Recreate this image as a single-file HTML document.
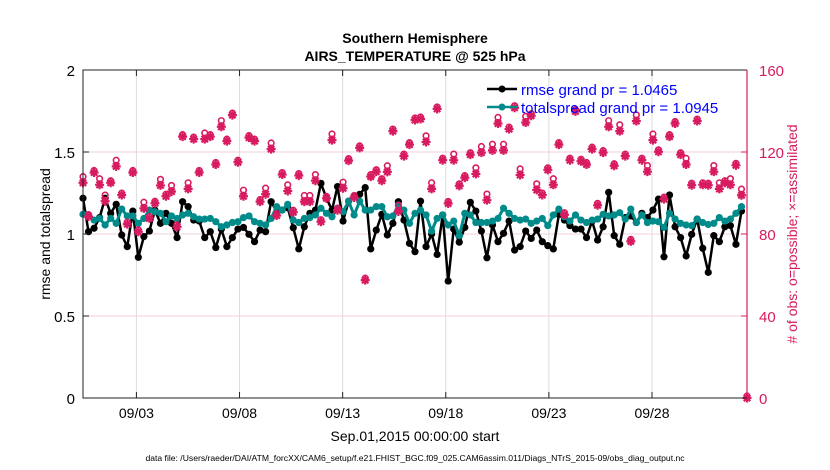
<!DOCTYPE html>
<html><head><meta charset="utf-8"><style>
body{margin:0;background:#fff;}
svg{display:block;font-family:"Liberation Sans",sans-serif;}
</style></head><body>
<svg id="chart" width="830" height="470" viewBox="0 0 830 470">
<rect width="830" height="470" fill="#fff"/>
<text x="415" y="43" text-anchor="middle" font-size="14" font-weight="bold">Southern Hemisphere</text>
<text x="415" y="61" text-anchor="middle" font-size="14" font-weight="bold">AIRS_TEMPERATURE @ 525 hPa</text>
<g id="grid"></g>
<g id="series"></g>
<g id="axes"></g>
<text transform="translate(50,234) rotate(-90)" text-anchor="middle" font-size="14">rmse and totalspread</text>
<text transform="translate(797,234) rotate(-90)" text-anchor="middle" font-size="14" fill="#d81b60"># of obs: o=possible; ×=assimilated</text>
<text x="415" y="441" text-anchor="middle" font-size="14">Sep.01,2015 00:00:00 start</text>
<text x="415" y="461" text-anchor="middle" font-size="8.6">data file: /Users/raeder/DAI/ATM_forcXX/CAM6_setup/f.e21.FHIST_BGC.f09_025.CAM6assim.011/Diags_NTrS_2015-09/obs_diag_output.nc</text>
<g>
<g>
<line x1="487" y1="89" x2="517" y2="89" stroke="#000" stroke-width="2.5"/>
<circle cx="502" cy="89" r="3.5" fill="#000"/>
<text x="521" y="95" font-size="15" fill="#0000ff">rmse grand pr = 1.0465</text>
</g>
<g>
<line x1="487" y1="107" x2="517" y2="107" stroke="#008b8b" stroke-width="2.5"/>
<circle cx="502" cy="107" r="3.5" fill="#008b8b"/>
<text x="521" y="113" font-size="15" fill="#0000ff">totalspread grand pr = 1.0945</text>
</g>
</g>
</svg>
<script>
const rmse = [1.218,1.014,1.035,1.10,1.218,1.126,1.181,0.994,0.923,1.140,0.858,0.984,1.018,1.146,1.065,1.126,1.065,0.978,1.197,1.167,1.085,1.079,0.978,1.014,0.917,1.03,0.923,0.978,1.03,1.04,0.998,
0.953,1.024,1.014,1.197,1.136,1.146,1.16,1.038,0.909,1.044,1.126,1.146,1.309,1.218,1.146,1.289,1.079,1.2,1.228,1.242,1.283,0.909,1.024,1.12,0.994,1.065,1.197,1.085,0.943,0.892,
1.2,0.923,1.0,0.875,1.116,0.713,1.03,0.95,1.04,1.193,1.14,1.018,0.855,1.055,0.953,1.004,1.079,0.902,0.923,1.018,0.973,1.024,0.953,0.929,0.909,1.12,1.085,1.051,1.03,1.03,
0.978,1.079,0.963,1.044,1.254,0.99,0.937,1.1,1.11,1.07,1.126,1.1,1.146,1.213,0.861,1.238,1.044,0.978,0.866,0.998,1.091,0.913,0.766,0.99,0.953,1.044,1.051,0.937,1.14,null];
const spread = [1.12,1.11,1.085,1.095,1.055,1.095,1.065,1.152,1.11,1.11,1.065,1.095,1.146,1.136,1.126,1.075,1.11,1.095,1.116,1.126,1.105,1.091,1.091,1.095,1.075,1.044,1.055,1.07,1.075,1.10,1.11,
1.075,1.065,1.055,1.095,1.167,1.146,1.181,1.085,1.07,1.095,1.1,1.116,1.157,1.126,1.105,1.157,1.136,1.2,1.116,1.2,1.146,1.146,1.167,1.167,1.105,1.11,1.177,1.146,1.065,1.126,
1.146,1.116,1.018,1.095,1.116,1.055,1.079,0.99,1.126,1.116,1.07,1.07,1.07,1.079,1.095,1.157,1.126,1.095,1.085,1.091,1.065,1.079,1.095,1.051,1.116,1.152,1.105,1.079,1.116,1.085,
1.07,1.085,1.091,1.12,1.11,1.116,1.13,1.091,1.152,1.07,1.116,1.07,1.079,1.075,1.04,1.126,1.091,1.065,1.055,1.051,1.091,1.07,1.058,1.065,1.1,1.079,1.091,1.126,1.167,null];
const obsAssim = [105,88.5,110,104,96,105,113,99,84.8,110,81.1,92.5,87.6,95,103.7,98.4,100.7,83.5,127.5,102,126.3,110,126.3,127.5,113.9,132.3,125.3,138,115,98.4,127,
125.3,95.8,99.4,121.4,89,109,101,90.6,108.5,95.8,95.8,106,86,97.4,125.8,91.6,102.3,115.8,97.8,122,57.5,108,110.4,106,110.3,130.2,91,118,123.6,135.6,
136.1,124.9,102,141,116,94.9,116,103.5,107.5,118.7,109.3,119.7,96.5,120.8,133.9,120.8,131.2,141.6,108.8,134.4,137.7,101.5,99,111.3,104,123.6,89.4,116,139.8,115.5,
113.9,121.4,94,119.7,132.3,113.3,130.2,118,76.4,135.1,116,110.4,125.8,120.1,97,127.5,133.9,118.7,113.9,103.8,135.1,104,103.8,110.4,102,105,104,113.5,98.9,0];
const obsPossible = [107,88.5,110,106,98,105,115,99,84.8,110,81.1,94.5,87.6,95,105.7,98.4,102.7,83.5,127.5,104,126.3,110,128.3,127.5,113.9,134.3,125.3,138,115,100.4,127,
125.3,95.8,101.4,123.4,89,109,103,90.6,108.5,97.8,97.8,108,86,97.4,127.8,91.6,104.3,115.8,97.8,122,57.5,108,110.4,106,112.3,130.2,93,118,123.6,135.6,
136.1,126.9,104,141,116,94.9,118,103.5,107.5,118.7,111.3,121.7,98.5,122.8,135.9,122.8,131.2,141.6,110.8,136.4,137.7,103.5,99,111.3,106,123.6,89.4,116,139.8,115.5,
113.9,121.4,94,119.7,134.3,113.3,132.3,118,76.4,137.1,116,112.4,127.8,120.1,97,127.5,133.9,118.7,115.9,103.8,135.1,104,103.8,112.4,104,105,106,113.5,100.9,0];
const xTickDays = [2,7,12,17,22,27];
const xTickLabels = ["09/03","09/08","09/13","09/18","09/23","09/28"];
const yTicksLeft = [0,0.5,1,1.5,2];
const yTickLabelsLeft = ["0","0.5","1","1.5","2"];
const yTicksRight = [0,40,80,120,160];
const yTickLabelsRight = ["0","40","80","120","160"];

const NS="http://www.w3.org/2000/svg";
const L=83, R=747, T=70, B=398;
const t0=-0.59, dt=0.2683;
const dayMin=t0, dayMax=t0+dt*(rmse.length-1);
const xs = d => L + (d-dayMin)/(dayMax-dayMin)*(R-L);
const yl = v => B - v/2*(B-T);
const yr = v => B - v/160*(B-T);
const RED="#d81b60", TEAL="#008b8b";
function mk(tag, attrs, parent){const e=document.createElementNS(NS,tag);for(const k in attrs)e.setAttribute(k,attrs[k]);parent.appendChild(e);return e;}
const grid=document.getElementById('grid'), ser=document.getElementById('series'), ax=document.getElementById('axes');

xTickDays.forEach((d,i)=>{
  const x=xs(d);
  const g=mk('line',{x1:x,y1:T,x2:x,y2:B,stroke:'#dcdcdc','stroke-width':1},grid);
  
  
  mk('line',{x1:x,y1:B,x2:x,y2:B-6,stroke:'#222'},ax);
  mk('line',{x1:x,y1:T,x2:x,y2:T+6,stroke:'#222'},ax);
  const t=mk('text',{x:x,y:B+20,'text-anchor':'middle','font-size':14},ax);
  t.textContent=xTickLabels[i];
  
  
});
yTicksRight.forEach((v,i)=>{
  const y=yr(v);
  if(v>0&&v<160){
    const g=mk('line',{x1:L,y1:y,x2:R,y2:y,stroke:'#f2cfdc','stroke-width':1},grid);
    
    
  }
  mk('line',{x1:R,y1:y,x2:R-6,y2:y,stroke:RED},ax);
  const t=mk('text',{x:R+12,y:y+6,'font-size':15,fill:RED},ax);
  t.textContent=yTickLabelsRight[i];
  
  
});
yTicksLeft.forEach((v,i)=>{
  const y=yl(v);
  mk('line',{x1:L,y1:y,x2:L+6,y2:y,stroke:'#222'},ax);
  const t=mk('text',{x:L-8,y:y+6,'text-anchor':'end','font-size':15},ax);
  t.textContent=yTickLabelsLeft[i];
  
  
});
const fr1=mk('path',{d:`M${R},${T}H${L}V${B}H${R}`,fill:'none',stroke:'#222','stroke-width':1},ax);


const ra=mk('line',{x1:R,y1:T,x2:R,y2:B,stroke:RED,'stroke-width':1.2},ax);



function series(arr,color,name,w){
  let d='';
  arr.forEach((v,i)=>{ if(v===null) return; d+=(d?'L':'M')+xs(t0+i*dt).toFixed(1)+','+yl(v).toFixed(1);});
  const p=mk('path',{d:d,fill:'none',stroke:color,'stroke-width':w,'stroke-linejoin':'round'},ser);
  
  
  arr.forEach((v,i)=>{ if(v===null) return;
    const c=mk('circle',{cx:xs(t0+i*dt),cy:yl(v),r:3.6,fill:color},ser);
    
    
  });
}
series(rmse,'#000','rmse',2.5);
series(spread,TEAL,'totalspread',3);

obsPossible.forEach((v,i)=>{
  const c=mk('circle',{cx:xs(t0+i*dt),cy:yr(v)-2,r:2.8,fill:'none',stroke:RED,'stroke-width':1.6},ser);
  
  
});
obsAssim.forEach((v,i)=>{
  const x=xs(t0+i*dt), y=yr(v);
  const s=mk('path',{d:`M${x-4.5},${y}H${x+4.5}M${x},${y-4.5}V${y+4.5}M${x-3.2},${y-3.2}L${x+3.2},${y+3.2}M${x-3.2},${y+3.2}L${x+3.2},${y-3.2}`,stroke:RED,'stroke-width':2.2,fill:'none'},ser);
  
  
});
</script>
</body></html>
